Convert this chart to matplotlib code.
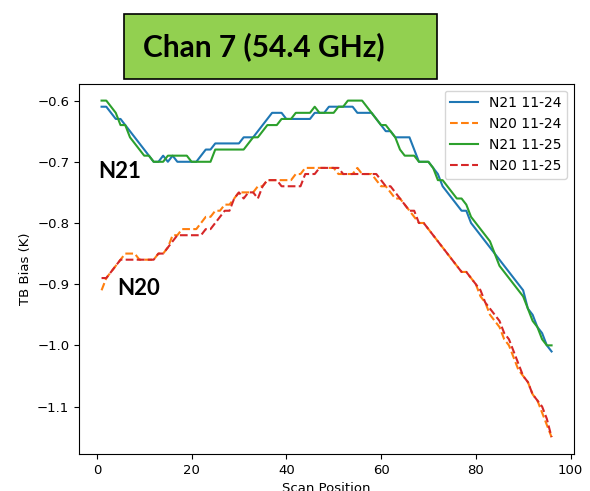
import numpy as np
import matplotlib
matplotlib.use('Agg')
import matplotlib.pyplot as plt
from matplotlib.patches import Rectangle

# scan positions 1..96
scan = np.arange(1, 97)

# N21 11-24
n21_1124 = [-0.61, -0.61, -0.62, -0.63, -0.63, -0.64, -0.65, -0.66, -0.67, -0.68,
            -0.69, -0.70, -0.70, -0.69, -0.70, -0.69, -0.70, -0.70, -0.70, -0.70,
            -0.70, -0.69, -0.68, -0.68, -0.67, -0.67, -0.67, -0.67, -0.67, -0.67,
            -0.66, -0.66, -0.66, -0.65, -0.64, -0.63, -0.62, -0.62, -0.62, -0.63,
            -0.63, -0.63, -0.63, -0.63, -0.63, -0.62, -0.62, -0.62, -0.61, -0.61,
            -0.61, -0.61, -0.61, -0.61, -0.62, -0.62, -0.62, -0.62, -0.63, -0.64,
            -0.65, -0.65, -0.66, -0.66, -0.66, -0.66, -0.68, -0.70, -0.70, -0.70,
            -0.71, -0.72, -0.74, -0.75, -0.76, -0.77, -0.78, -0.78, -0.80, -0.81,
            -0.82, -0.83, -0.84, -0.85, -0.86, -0.87, -0.88, -0.89, -0.90, -0.91,
            -0.94, -0.95, -0.97, -0.98, -1.00, -1.01]

# N20 11-24
n20_1124 = [-0.91, -0.89, -0.88, -0.87, -0.86, -0.85, -0.85, -0.85, -0.86, -0.86,
            -0.86, -0.86, -0.85, -0.85, -0.84, -0.82, -0.82, -0.81, -0.81, -0.81,
            -0.81, -0.80, -0.79, -0.79, -0.78, -0.78, -0.77, -0.77, -0.76, -0.75,
            -0.75, -0.75, -0.75, -0.74, -0.74, -0.73, -0.73, -0.73, -0.73, -0.73,
            -0.73, -0.72, -0.72, -0.71, -0.71, -0.71, -0.71, -0.71, -0.71, -0.71,
            -0.72, -0.72, -0.72, -0.72, -0.71, -0.72, -0.72, -0.72, -0.73, -0.74,
            -0.74, -0.75, -0.76, -0.76, -0.77, -0.78, -0.79, -0.80, -0.80, -0.81,
            -0.82, -0.83, -0.84, -0.85, -0.86, -0.87, -0.88, -0.88, -0.89, -0.90,
            -0.92, -0.93, -0.95, -0.96, -0.97, -0.99, -1.00, -1.02, -1.04, -1.05,
            -1.06, -1.08, -1.09, -1.11, -1.13, -1.15]

# N21 11-25
n21_1125 = [-0.60, -0.60, -0.61, -0.62, -0.64, -0.64, -0.66, -0.67, -0.68, -0.69,
            -0.69, -0.70, -0.70, -0.70, -0.69, -0.69, -0.69, -0.69, -0.69, -0.70,
            -0.70, -0.70, -0.70, -0.70, -0.68, -0.68, -0.68, -0.68, -0.68, -0.68,
            -0.68, -0.67, -0.66, -0.66, -0.65, -0.64, -0.64, -0.64, -0.63, -0.63,
            -0.63, -0.62, -0.62, -0.62, -0.62, -0.61, -0.62, -0.62, -0.62, -0.62,
            -0.61, -0.61, -0.60, -0.60, -0.60, -0.60, -0.61, -0.62, -0.63, -0.64,
            -0.64, -0.65, -0.66, -0.68, -0.69, -0.69, -0.69, -0.70, -0.70, -0.70,
            -0.71, -0.73, -0.73, -0.74, -0.75, -0.76, -0.76, -0.77, -0.79, -0.80,
            -0.81, -0.82, -0.83, -0.85, -0.87, -0.88, -0.89, -0.90, -0.91, -0.92,
            -0.94, -0.96, -0.97, -0.99, -1.00, -1.00]

# N20 11-25
n20_1125 = [-0.89, -0.89, -0.88, -0.87, -0.86, -0.86, -0.86, -0.86, -0.86, -0.86,
            -0.86, -0.86, -0.85, -0.85, -0.84, -0.83, -0.82, -0.82, -0.82, -0.82,
            -0.82, -0.82, -0.81, -0.81, -0.80, -0.79, -0.78, -0.78, -0.76, -0.75,
            -0.76, -0.75, -0.75, -0.76, -0.74, -0.73, -0.73, -0.73, -0.74, -0.74,
            -0.74, -0.74, -0.74, -0.72, -0.72, -0.72, -0.71, -0.71, -0.71, -0.71,
            -0.71, -0.72, -0.72, -0.72, -0.72, -0.72, -0.72, -0.72, -0.72, -0.73,
            -0.74, -0.74, -0.75, -0.76, -0.77, -0.78, -0.78, -0.80, -0.80, -0.81,
            -0.82, -0.83, -0.84, -0.85, -0.86, -0.87, -0.88, -0.88, -0.89, -0.90,
            -0.91, -0.93, -0.94, -0.95, -0.96, -0.98, -0.99, -1.01, -1.03, -1.05,
            -1.06, -1.08, -1.09, -1.10, -1.12, -1.15]

fig = plt.figure(figsize=(5.9, 4.91), dpi=100)
ax = fig.add_axes([0.134, 0.0754, 0.839, 0.754])

ax.plot(scan, n21_1124, '-', color='C0', label='N21 11-24')
ax.plot(scan, n20_1124, '--', color='C1', label='N20 11-24')
ax.plot(scan, n21_1125, '-', color='C2', label='N21 11-25')
ax.plot(scan, n20_1125, '--', color='C3', label='N20 11-25')

ax.set_xlabel('Scan Position', fontsize=9.5)
ax.set_ylabel('TB Bias (K)', fontsize=9.5)
ax.tick_params(labelsize=9.5)
ax.legend(loc='upper right', fontsize=10)

# satellite labels
lbl_font = ['Lato', 'DejaVu Sans']
ax.text(0.2, -0.726, 'N21', family=lbl_font, fontweight='bold', fontsize=16,
        va='baseline')
ax.text(4.4, -0.918, 'N20', family=lbl_font, fontweight='bold', fontsize=16,
        va='baseline')

# green title box
W, H = 590, 491
fig.patches.append(Rectangle((124 / W, 1 - 79 / H), (437 - 124) / W, (79 - 14) / H,
                             transform=fig.transFigure, facecolor='#92D050',
                             edgecolor='black', linewidth=1.2))
fig.text(143 / W, 1 - 47 / H, 'Chan 7 (54.4 GHz)', family=lbl_font,
         fontweight='bold', fontsize=21.5, va='center', ha='left')

fig.savefig('out.png', dpi=100)
